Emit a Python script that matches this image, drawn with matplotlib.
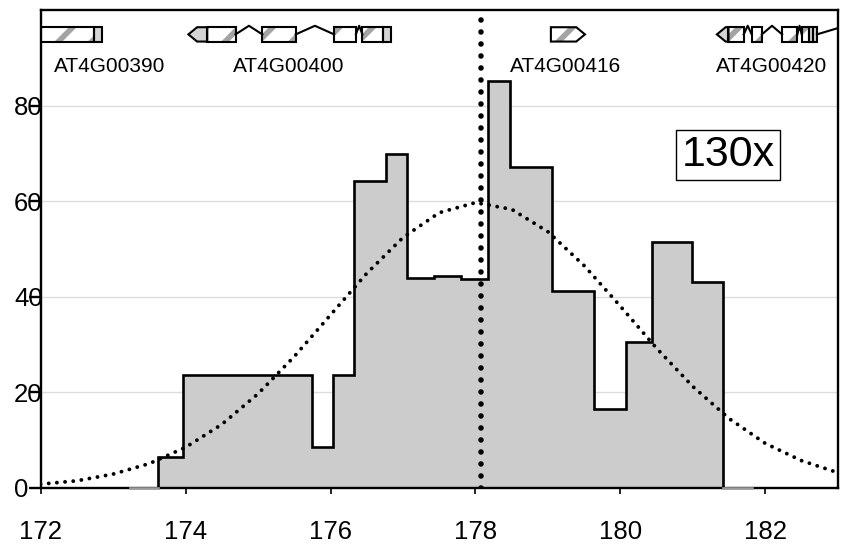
import matplotlib
matplotlib.use("Agg")
import matplotlib.pyplot as plt
from matplotlib.patches import Polygon

plt.rcParams['font.family'] = ['Liberation Sans', 'DejaVu Sans']
plt.rcParams['hatch.linewidth'] = 4.0

# histogram of read coverage (bin edges in kb, heights)
bin_edges = [173.24, 173.62, 173.97, 175.75, 176.04, 176.33, 176.76, 177.06, 177.43,
             177.80, 178.17, 178.47, 179.05, 179.63, 180.08, 180.44, 180.98, 181.42, 181.81]
bin_counts = [0, 6.5, 23.6, 8.5, 23.6, 64.2, 69.8, 44.0, 44.3,
              43.8, 85.2, 67.2, 41.2, 16.5, 30.6, 51.5, 43.0, 0]

# fitted curve
curve_x = [172.0, 172.5, 173.0, 173.5, 174.0, 174.5, 175.0, 175.5, 176.0, 176.5, 177.0, 177.5,
           178.0, 178.5, 179.0, 179.5, 180.0, 180.5, 181.0, 181.5, 182.0, 182.5, 183.0]
curve_y = [0.8, 1.5, 2.9, 5.1, 8.5, 13.3, 19.7, 27.5, 36.2, 44.9, 52.4, 57.6,
           59.7, 58.3, 53.6, 46.5, 38.0, 29.2, 21.2, 14.5, 9.3, 5.7, 3.2]

peak_pos = 178.08
coverage_label = "130x"

# gene models: exons (start, end, kind), introns (start, end), strand arrow
gene_names = ["AT4G00390", "AT4G00400", "AT4G00416", "AT4G00420"]
gene_label_x = [172.95, 175.42, 179.24, 182.09]
gene_exons = [
    [(171.9, 172.74, 'cds'), (172.74, 172.85, 'utr')],
    [(174.04, 174.30, 'utr'), (174.30, 174.69, 'cds'), (175.06, 175.52, 'cds'),
     (176.05, 176.35, 'cds'), (176.44, 176.72, 'cds'), (176.72, 176.84, 'utr')],
    [(179.04, 179.51, 'cds')],
    [(181.33, 181.49, 'utr'), (181.49, 181.70, 'cds'), (181.81, 181.95, 'cds'),
     (182.23, 182.44, 'cds'), (182.50, 182.60, 'cds'), (182.60, 182.65, 'utr'),
     (182.66, 182.71, 'utr')],
]
gene_introns = [
    [],
    [(174.69, 175.06), (175.52, 176.05), (176.35, 176.44)],
    [],
    [(181.70, 181.81), (181.95, 182.23), (182.44, 182.50), (182.71, 183.50)],
]
gene_strand = ['+', '-', '+', '-']
arrow_len = 0.12

track_bottom, track_top = 93.4, 96.4
track_mid = (track_bottom + track_top) / 2


def draw_exon(ax, x0, x1, kind, head):
    # head: None, 'left' or 'right' for arrow tip
    b, t, m = track_bottom, track_top, track_mid
    if head == 'left':
        pts = [(x0, m), (x0 + arrow_len, t), (x1, t), (x1, b), (x0 + arrow_len, b)]
    elif head == 'right':
        pts = [(x0, b), (x0, t), (x1 - arrow_len, t), (x1, m), (x1 - arrow_len, b)]
    else:
        pts = [(x0, b), (x0, t), (x1, t), (x1, b)]
    if kind == 'cds':
        ax.add_patch(Polygon(pts, closed=True, facecolor='white', edgecolor='#a3a3a3',
                             hatch='/', linewidth=0, zorder=4))
    else:
        ax.add_patch(Polygon(pts, closed=True, facecolor='#d4d4d4', linewidth=0, zorder=4))
    ax.add_patch(Polygon(pts, closed=True, facecolor='none', edgecolor='black',
                         linewidth=1.5, zorder=5))


fig = plt.figure(figsize=(8.46, 5.47), dpi=100)
ax = fig.add_axes([0.0479, 0.1079, 0.9426, 0.8738])

# histogram
ax.stairs(bin_counts, bin_edges, fill=True, color='#cccccc', zorder=2)
ax.stairs(bin_counts[1:-1], bin_edges[1:-1], baseline=0, fill=False,
          color='black', linewidth=1.9, zorder=3)
ax.plot(bin_edges[:2], [0, 0], color='#9a9a9a', linewidth=1.9, zorder=8, clip_on=False)
ax.plot(bin_edges[-2:], [0, 0], color='#9a9a9a', linewidth=1.9, zorder=8, clip_on=False)

# fitted curve and peak position
ax.plot(curve_x, curve_y, color='black', linewidth=2.8, linestyle=(0, (0.01, 2.1)),
        dash_capstyle='round', zorder=6)
ax.plot([peak_pos, peak_pos], [0, 100], color='black', linewidth=4.0,
        linestyle=(0, (0.01, 2.15)), dash_capstyle='round', zorder=6)

# gene track
for i, name in enumerate(gene_names):
    exons = gene_exons[i]
    for j, (x0, x1, kind) in enumerate(exons):
        head = None
        if gene_strand[i] == '-' and j == 0:
            head = 'left'
        if gene_strand[i] == '+' and j == len(exons) - 1 and i == 2:
            head = 'right'
        draw_exon(ax, x0, x1, kind, head)
    for (s, e) in gene_introns[i]:
        ax.plot([s, (s + e) / 2, e], [track_mid, track_top + 0.3, track_mid],
                color='black', linewidth=1.5, zorder=5)
    ax.text(gene_label_x[i], 88.1, name, ha='center', va='center', fontsize=15, zorder=7)

ax.text(0.862, 0.696, coverage_label, transform=ax.transAxes, ha='center', va='center',
        fontsize=31, zorder=8,
        bbox=dict(boxstyle='square,pad=0.12', facecolor='white', edgecolor='black', linewidth=1))

ax.set_xlim(172, 183)
ax.set_ylim(0, 100)
ax.set_xticks([172, 174, 176, 178, 180, 182])
ax.set_yticks([0, 20, 40, 60, 80])
ax.grid(axis='y', color='#dcdcdc', linewidth=1)
ax.set_axisbelow(True)

for s in ax.spines.values():
    s.set_linewidth(1.7)
    s.set_zorder(7)

ax.tick_params(axis='x', direction='out', length=4, width=1.2, pad=19, labelsize=18.5)
ax.tick_params(axis='y', direction='out', length=8.6, width=1.7, pad=10.5, labelsize=18.5)
for lbl in ax.get_yticklabels():
    lbl.set_horizontalalignment('left')
    lbl.set_zorder(9)

fig.savefig('out.png', dpi=100)
